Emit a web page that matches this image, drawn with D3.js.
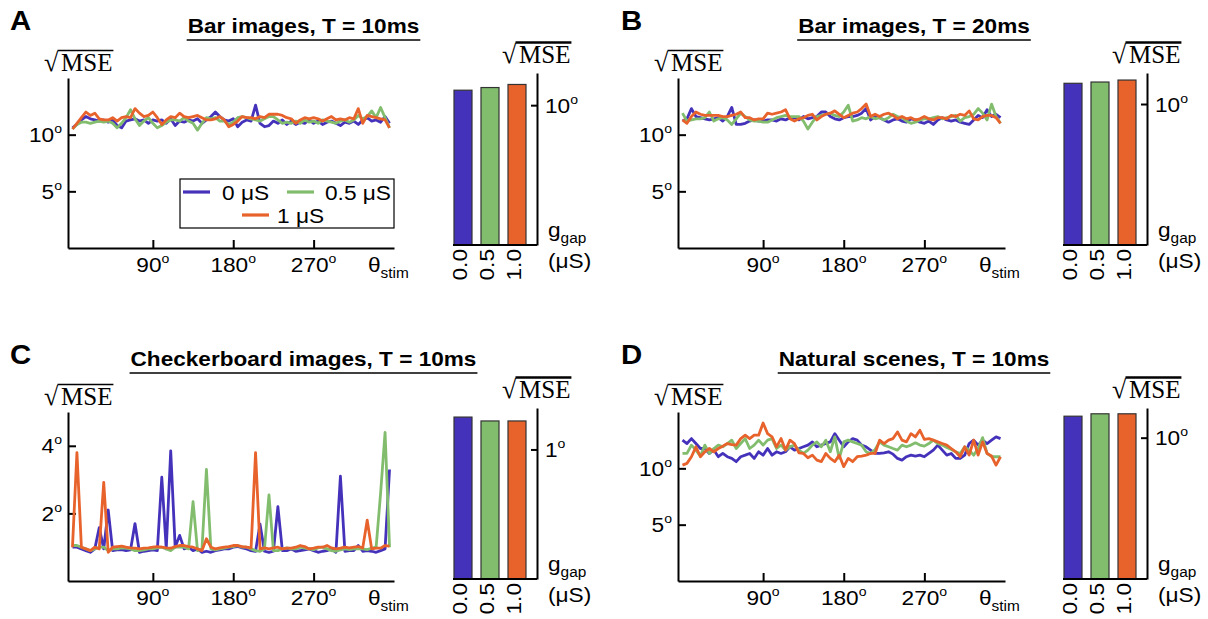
<!DOCTYPE html>
<html>
<head>
<meta charset="utf-8">
<script src="https://cdn.jsdelivr.net/npm/d3@7"></script>
<style>
  body { margin: 0; background: #fff; }
  svg { display: block; }
</style>
</head>
<body>
<div id="chart"></div>
<script>
// stimulus orientations (deg) and gap conductances
const angles = d3.range(0, 360, 5);
const gapLabels = ["0.0", "0.5", "1.0"];
const legendLabels = ["0 μS", "0.5 μS", "1 μS"];
const colors = ["#4532bb", "#82bd6e", "#e8622c"];

// A: bar images, T = 10ms  (sqrt MSE in deg)
const barT10_g0 = [10.6, 10.9, 11.3, 11.6, 11.4, 11.3, 11.2, 11.3, 11.1, 11.3,
  10.8, 10.6, 11.2, 11.3, 11.4, 11.2, 11.3, 11.0, 11.3, 11.2,
  11.3, 11.0, 11.4, 10.8, 11.2, 11.1, 11.3, 11.2, 11.4, 11.0,
  11.3, 11.6, 12.0, 11.6, 11.3, 11.2, 11.4, 10.7, 11.1, 11.3,
  11.2, 12.6, 11.0, 10.7, 10.8, 11.2, 11.0, 11.3, 10.9, 11.2,
  10.9, 11.1, 11.0, 11.3, 11.0, 11.2, 10.9, 11.1, 11.2, 11.0,
  10.8, 11.1, 11.0, 11.2, 10.9, 11.3, 11.5, 11.2, 11.3, 11.1,
  11.6, 11.0];
const barT10_g05 = [10.5, 10.9, 11.1, 11.1, 11.0, 11.1, 11.2, 11.1, 11.2, 11.0,
  10.6, 11.0, 11.5, 12.2, 11.4, 10.8, 11.2, 11.5, 11.0, 10.6,
  10.8, 11.1, 11.3, 11.3, 11.2, 11.5, 11.2, 11.0, 10.4, 11.0,
  11.5, 11.4, 11.5, 11.2, 11.2, 10.9, 11.1, 11.5, 11.6, 11.5,
  11.4, 11.3, 11.2, 11.4, 11.6, 11.6, 11.3, 11.0, 11.1, 11.0,
  11.2, 11.0, 11.3, 11.1, 11.2, 11.0, 11.3, 11.2, 11.1, 11.0,
  11.2, 11.3, 11.1, 11.3, 11.7, 11.4, 11.6, 12.1, 11.5, 12.4,
  11.5, 10.6];
const barT10_g1 = [10.5, 11.0, 11.5, 12.0, 11.7, 11.9, 11.4, 11.3, 11.3, 11.5,
  11.2, 11.5, 11.6, 11.5, 12.3, 11.9, 11.6, 11.7, 12.0, 11.5,
  10.9, 11.3, 11.6, 11.5, 11.9, 11.6, 11.5, 11.6, 11.7, 11.5,
  11.3, 11.3, 11.4, 11.6, 11.3, 10.7, 10.9, 11.2, 11.6, 11.5,
  11.5, 11.4, 11.6, 11.5, 11.8, 11.8, 11.8, 11.7, 11.5, 11.4,
  11.0, 11.3, 11.5, 11.4, 11.5, 11.4, 11.2, 11.4, 11.6, 11.3,
  11.4, 11.3, 11.5, 11.4, 12.3, 11.0, 11.7, 11.6, 11.5, 11.4,
  11.3, 10.6];
const barT10_mean = [11.07, 11.26, 11.48];

// B: bar images, T = 20ms
const barT20_g0 = [11.2, 11.4, 12.3, 11.6, 11.5, 11.4, 11.3, 11.4, 11.5, 11.2,
  11.6, 12.4, 10.9, 10.9, 11.0, 11.2, 11.3, 11.2, 11.2, 11.3,
  11.3, 11.2, 11.4, 11.3, 11.5, 11.5, 11.3, 11.6, 11.4, 11.5,
  11.6, 12.0, 12.0, 11.6, 11.4, 11.3, 11.5, 11.6, 11.6, 11.7,
  11.9, 12.3, 11.3, 11.6, 11.5, 11.3, 11.1, 11.3, 11.4, 11.2,
  11.1, 11.4, 11.3, 11.1, 11.0, 11.2, 10.9, 11.3, 11.5, 11.3,
  11.2, 11.3, 11.1, 11.0, 10.9, 11.3, 11.7, 11.5, 12.2, 11.6,
  11.8, 11.5];
const barT20_g05 = [11.9, 11.2, 11.3, 11.4, 11.4, 11.5, 12.0, 11.2, 11.4, 11.5,
  11.3, 10.9, 11.4, 11.9, 11.6, 11.3, 11.2, 11.2, 11.1, 11.1,
  11.3, 11.5, 11.6, 11.7, 11.6, 11.6, 11.6, 11.2, 10.5, 11.1,
  11.6, 11.7, 11.8, 11.9, 11.7, 11.6, 12.0, 12.6, 11.2, 11.3,
  11.5, 11.4, 11.6, 11.4, 11.5, 11.3, 11.5, 11.8, 11.6, 11.5,
  11.2, 11.0, 11.1, 11.3, 11.4, 11.4, 11.5, 11.6, 11.4, 11.5,
  11.6, 11.7, 11.2, 11.5, 11.6, 11.8, 12.3, 11.9, 11.3, 12.7,
  11.6, 11.0];
const barT20_g1 = [11.3, 11.0, 11.6, 12.0, 11.8, 11.7, 11.7, 11.7, 11.7, 11.6,
  11.6, 11.7, 11.8, 12.0, 11.5, 11.5, 11.3, 11.4, 11.4, 11.9,
  11.8, 11.9, 12.0, 12.2, 11.4, 11.2, 11.4, 11.5, 11.7, 11.8,
  11.3, 11.6, 11.8, 11.9, 12.1, 11.8, 11.5, 11.7, 11.9, 12.0,
  12.3, 12.7, 11.6, 11.8, 11.6, 11.8, 11.9, 11.7, 11.4, 11.6,
  11.4, 11.5, 11.3, 11.4, 11.6, 11.4, 11.3, 11.5, 11.5, 11.4,
  11.7, 11.6, 11.8, 11.7, 12.1, 11.4, 11.3, 11.6, 11.7, 11.7,
  11.5, 11.0];
const barT20_mean = [11.47, 11.56, 11.7];

// C: checkerboard images, T = 10ms
const checker_g0 = [1.0, 1.0, 0.95, 0.9, 0.85, 0.95, 1.58, 0.95, 2.1, 0.9,
  0.92, 0.93, 0.9, 0.92, 1.7, 0.85, 0.88, 0.9, 0.92, 0.9,
  3.07, 0.95, 3.85, 1.0, 1.35, 0.95, 1.0, 0.9, 0.95, 0.85,
  0.88, 0.85, 0.9, 0.92, 0.95, 0.95, 1.0, 1.02, 0.98, 0.95,
  0.9, 0.88, 1.68, 0.88, 0.85, 0.88, 2.2, 0.9, 0.9, 0.95,
  0.88, 0.9, 0.92, 0.95, 0.9, 0.85, 0.88, 0.9, 0.95, 0.85,
  3.1, 0.88, 0.9, 0.9, 1.05, 0.88, 0.9, 0.88, 0.85, 0.9,
  0.95, 3.3];
const checker_g05 = [1.05, 1.05, 1.0, 0.95, 0.9, 0.95, 1.0, 1.0, 0.9, 0.95,
  0.95, 0.98, 0.97, 0.95, 0.9, 0.9, 0.92, 0.95, 0.95, 0.98,
  1.0, 0.95, 0.9, 1.0, 1.0, 1.0, 0.95, 2.35, 0.9, 0.95,
  3.3, 0.95, 0.92, 0.95, 0.97, 1.0, 1.02, 1.05, 1.0, 1.0,
  0.95, 0.9, 0.88, 0.95, 2.55, 0.9, 0.9, 0.95, 0.98, 0.95,
  0.95, 1.0, 0.97, 0.95, 0.93, 0.98, 1.0, 0.95, 0.9, 0.88,
  0.92, 0.95, 0.93, 0.95, 0.95, 0.95, 0.93, 0.97, 1.0, 2.6,
  4.4, 1.0];
const checker_g1 = [1.0, 3.8, 1.0, 0.95, 0.9, 1.0, 0.95, 2.92, 0.85, 1.0,
  1.02, 1.03, 1.0, 0.98, 0.97, 0.95, 0.97, 0.98, 1.0, 1.02,
  1.0, 0.98, 0.97, 1.02, 1.05, 1.05, 1.02, 1.0, 0.95, 0.9,
  1.25, 1.0, 0.95, 0.98, 1.0, 1.02, 1.05, 1.05, 1.02, 1.0,
  0.98, 3.8, 0.95, 0.98, 0.95, 0.98, 1.0, 0.95, 0.97, 0.97,
  1.0, 1.05, 1.02, 0.95, 0.97, 1.0, 1.0, 1.05, 0.98, 0.95,
  0.97, 1.0, 0.98, 1.0, 1.02, 0.98, 1.8, 0.95, 0.97, 0.97,
  1.05, 1.03];
const checker_mean = [1.25, 1.22, 1.22];

// D: natural scenes, T = 10ms
const natural_g0 = [12.5, 12.2, 12.64, 12.2, 11.76, 11.76, 11.32, 11.62, 11.03, 11.32,
  11.03, 10.88, 10.59, 11.03, 11.17, 11.32, 10.88, 11.47, 11.17, 11.76,
  11.17, 11.47, 11.32, 11.47, 11.91, 11.62, 11.76, 11.91, 12.06, 12.35,
  11.91, 12.06, 12.2, 12.35, 13.08, 12.5, 11.91, 12.35, 12.64, 12.5,
  12.06, 11.91, 11.62, 11.32, 11.32, 11.38, 11.47, 11.26, 10.88, 10.73,
  11.03, 11.17, 11.09, 11.17, 11.03, 11.32, 11.62, 12.06, 11.62, 11.17,
  11.32, 10.88, 10.88, 11.17, 12.2, 12.5, 12.06, 12.5, 12.2, 12.5,
  12.79, 12.64];
const natural_g05 = [11.32, 11.32, 12.06, 11.62, 11.09, 12.06, 11.32, 11.76, 12.06, 11.91,
  12.2, 12.5, 11.76, 12.2, 12.64, 11.76, 12.06, 12.5, 12.06, 12.5,
  12.64, 11.76, 12.06, 11.62, 11.91, 12.06, 11.62, 11.32, 11.62, 12.06,
  12.35, 11.91, 12.5, 11.47, 12.79, 10.88, 12.35, 12.5, 12.35, 12.2,
  12.06, 11.47, 11.32, 11.67, 12.35, 12.06, 11.91, 11.76, 11.62, 12.06,
  11.91, 12.06, 12.26, 12.06, 11.97, 12.2, 12.5, 12.2, 12.06, 11.85,
  11.67, 11.47, 11.32, 11.91, 11.62, 11.17, 11.76, 12.73, 11.32, 11.03,
  11.03, 11.03];
const natural_g1 = [10.29, 10.44, 11.03, 11.91, 11.03, 11.47, 11.76, 11.47, 11.76, 11.97,
  12.2, 12.1, 12.06, 12.64, 12.94, 12.64, 12.94, 12.94, 14.02, 13.08,
  12.79, 11.91, 12.64, 11.62, 12.5, 12.2, 11.38, 11.32, 10.94, 11.17,
  10.73, 10.59, 11.32, 10.88, 10.59, 11.17, 10.15, 10.88, 10.59, 11.03,
  11.09, 11.17, 11.32, 11.32, 12.5, 12.2, 12.5, 12.64, 13.23, 12.5,
  12.35, 13.08, 12.79, 13.38, 12.56, 12.64, 12.5, 12.35, 12.2, 12.06,
  11.76, 11.47, 11.03, 11.91, 11.17, 12.5, 11.17, 12.35, 11.32, 11.09,
  10.29, 11.03];
const natural_mean = [11.52, 11.69, 11.69];

const panels = [
  { letter: "A", title: "Bar images, T = 10ms", col: 0, row: 0, legend: true,
    series: [barT10_g0, barT10_g05, barT10_g1], mean: barT10_mean,
    yMax: 15, yTicks: [5, 10], barMax: 12.3, barTicks: [10] },
  { letter: "B", title: "Bar images, T = 20ms", col: 1, row: 0,
    series: [barT20_g0, barT20_g05, barT20_g1], mean: barT20_mean,
    yMax: 15, yTicks: [5, 10], barMax: 12.2, barTicks: [10] },
  { letter: "C", title: "Checkerboard images, T = 10ms", col: 0, row: 1,
    series: [checker_g0, checker_g05, checker_g1], mean: checker_mean,
    yMax: 5, yTicks: [2, 4], barMax: 1.32, barTicks: [1] },
  { letter: "D", title: "Natural scenes, T = 10ms", col: 1, row: 1,
    series: [natural_g0, natural_g05, natural_g1], mean: natural_mean,
    yMax: 15, yTicks: [5, 10], barMax: 12.1, barTicks: [10] }
];

// layout per column / row
const cols = [
  { lineX: [68, 394], barX: [454, 526], barAxis: 537, titleCx: 303.5, letterX: 10 },
  { lineX: [678, 1005], barX: [1064, 1136], barAxis: 1147, titleCx: 914, letterX: 621 }
];
const rows = [
  { lineY: [248, 78], barY: [245, 73], titleY: 33, letterY: 30 },
  { lineY: [581, 412], barY: [579, 408], titleY: 366, letterY: 364 }
];

const W = 1208, H = 619;
const SANS = "'Liberation Sans', Arial, Helvetica, sans-serif";
const SERIF = "'Liberation Serif', 'Times New Roman', serif";

const svg = d3.select("#chart").append("svg")
  .attr("width", W).attr("height", H)
  .attr("viewBox", `0 0 ${W} ${H}`);
svg.append("rect").attr("width", W).attr("height", H).attr("fill", "#fff");

// text with a slightly wide look; parts = [[str, "sup"|"sub"|undefined], ...]
function label(parent, x, y, parts, o = {}) {
  const g = parent.append("g")
    .attr("transform", `translate(${x},${y})` + (o.rotate ? ` rotate(${o.rotate})` : ""));
  const size = o.size || 21;
  const t = g.append("text")
    .attr("transform", `scale(${o.sx || 1.08},1)`)
    .attr("font-family", o.family || SANS)
    .attr("font-size", size)
    .attr("font-weight", o.weight || "normal")
    .attr("text-anchor", o.anchor || "start")
    .attr("fill", "#000");
  parts.forEach(([s, kind]) => {
    const ts = t.append("tspan").text(s);
    if (kind === "sup") ts.attr("font-size", size * 0.62).attr("dy", -size * 0.42);
    if (kind === "sub") ts.attr("font-size", size * 0.68).attr("dy", size * 0.28);
  });
  return g;
}
const deg = (v) => [[String(v)], ["o", "sup"]];

function sqrtMSE(x, y, thick) {
  const g = svg.append("g").attr("transform", `translate(${x},${y})`);
  const r = g.append("text").attr("font-family", SERIF).attr("font-size", 26).text("√");
  const m = g.append("text").attr("x", 17).attr("font-family", SERIF)
    .attr("font-size", 25).text("MSE");
  const rb = r.node().getBBox();
  const mb = m.node().getBBox();
  g.append("line")
    .attr("x1", rb.x + rb.width - 1.5).attr("x2", mb.x + mb.width + 1)
    .attr("y1", rb.y + 2.5).attr("y2", rb.y + 2.5)
    .attr("stroke", "#000").attr("stroke-width", thick ? 2.4 : 1.3);
}

function blackAxis(sel) {
  sel.selectAll("path, line").attr("stroke", "#000").attr("stroke-width", 2);
}

panels.forEach((p) => {
  const c = cols[p.col], r = rows[p.row];

  // panel letter and underlined title
  label(svg, c.letterX, r.letterY, [[p.letter]], { size: 28, weight: "bold", sx: 1.05 });
  const tg = label(svg, c.titleCx, r.titleY, [[p.title]],
    { size: 20, weight: "bold", anchor: "middle", sx: 1.13 });
  const tb = tg.node().getBBox();
  svg.append("line")
    .attr("x1", c.titleCx + tb.x - 1).attr("x2", c.titleCx + tb.x + tb.width + 1)
    .attr("y1", r.titleY + 7).attr("y2", r.titleY + 7)
    .attr("stroke", "#000").attr("stroke-width", 1.6);

  // ---- line chart: sqrt MSE vs stimulus orientation
  const x = d3.scaleLinear().domain([-5, 360]).range(c.lineX);
  const y = d3.scaleLinear().domain([0, p.yMax]).range(r.lineY);

  svg.append("g").attr("transform", `translate(${c.lineX[0]},0)`)
    .call(d3.axisLeft(y).tickValues(p.yTicks).tickSizeInner(-8).tickSizeOuter(0).tickFormat(""))
    .call(blackAxis);
  svg.append("g").attr("transform", `translate(0,${r.lineY[0]})`)
    .call(d3.axisBottom(x).tickValues([90, 180, 270]).tickSizeInner(-8).tickSizeOuter(0).tickFormat(""))
    .call(blackAxis);

  p.yTicks.forEach((v) => label(svg, c.lineX[0] - 6, y(v) + 7.5, deg(v), { anchor: "end" }));
  [90, 180, 270].forEach((v) => label(svg, x(v), r.lineY[0] + 24, deg(v), { anchor: "middle" }));
  label(svg, c.lineX[1] - 26, r.lineY[0] + 24, [["θ"], ["stim", "sub"]]);
  sqrtMSE(c.lineX[0] - 24, r.lineY[1] - 7, false);

  const line = d3.line()
    .x((d, i) => x(angles[i]))
    .y((d) => y(d));
  p.series.forEach((s, k) => {
    svg.append("path")
      .datum(s)
      .attr("fill", "none")
      .attr("stroke", colors[k])
      .attr("stroke-width", 2.8)
      .attr("stroke-linejoin", "round")
      .attr("d", line);
  });

  if (p.legend) {
    const lg = svg.append("g");
    lg.append("rect").attr("x", 180).attr("y", 179).attr("width", 214).attr("height", 49)
      .attr("fill", "#fff").attr("stroke", "#000").attr("stroke-width", 1.2);
    const items = [
      { lx: 183, ly: 192, tx: 222 },
      { lx: 287, ly: 192, tx: 325 },
      { lx: 242, ly: 215, tx: 277 }
    ];
    items.forEach((it, k) => {
      lg.append("line").attr("x1", it.lx).attr("x2", it.lx + 27)
        .attr("y1", it.ly).attr("y2", it.ly)
        .attr("stroke", colors[k]).attr("stroke-width", 3.2);
      label(lg, it.tx, it.ly + 7.5, [[legendLabels[k]]]);
    });
  }

  // ---- bar chart: mean sqrt MSE per gap conductance
  const xb = d3.scaleBand().domain(gapLabels).range(c.barX).paddingInner(1 / 3).paddingOuter(0);
  const yb = d3.scaleLinear().domain([0, p.barMax]).range(r.barY);

  svg.append("g").selectAll("rect")
    .data(p.mean)
    .join("rect")
    .attr("x", (d, i) => xb(gapLabels[i]))
    .attr("y", (d) => yb(d))
    .attr("width", xb.bandwidth())
    .attr("height", (d) => yb(0) - yb(d))
    .attr("fill", (d, i) => colors[i])
    .attr("stroke", "#333")
    .attr("stroke-width", 1.2);

  svg.append("line")
    .attr("x1", c.barX[0] - 1).attr("x2", c.barAxis)
    .attr("y1", yb(0)).attr("y2", yb(0))
    .attr("stroke", "#000").attr("stroke-width", 2);
  svg.append("g").attr("transform", `translate(${c.barAxis},0)`)
    .call(d3.axisRight(yb).tickValues(p.barTicks).tickSizeInner(-6).tickSizeOuter(0).tickFormat(""))
    .call(blackAxis);

  p.barTicks.forEach((v) => label(svg, c.barAxis + 8, yb(v) + 7.5, deg(v)));
  gapLabels.forEach((gl) =>
    label(svg, xb(gl) + xb.bandwidth() / 2 + 3.5, yb(0) + 4, [[gl]], { rotate: -90, anchor: "end" }));
  label(svg, c.barAxis + 11, yb(0) - 8, [["g"], ["gap", "sub"]]);
  label(svg, c.barAxis + 11, yb(0) + 23, [["(μS)"]]);
  sqrtMSE(c.barAxis - 35, r.barY[1] - 10, true);
});
</script>
</body>
</html>
